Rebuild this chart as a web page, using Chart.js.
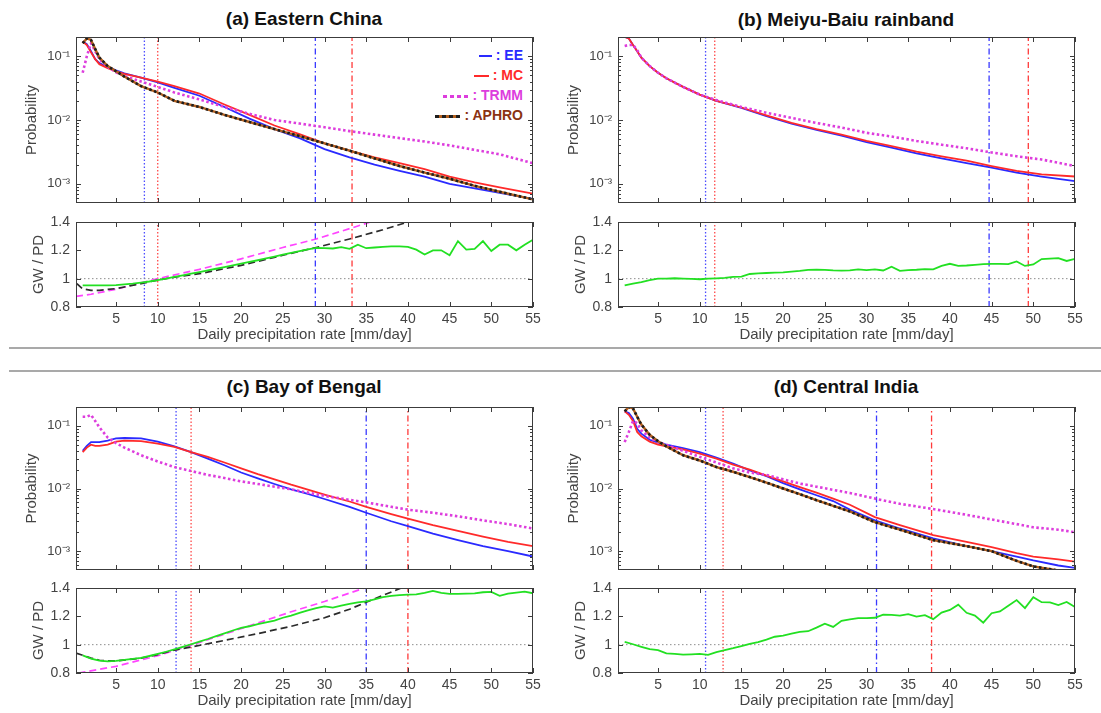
<!DOCTYPE html>
<html lang="en">
<head>
<meta charset="utf-8"/>
<title>Daily precipitation PDFs</title>
<script src="https://cdn.jsdelivr.net/npm/chart.js"></script>
<style>
body {
  margin: 0;
  width: 1101px;
  height: 713px;
  position: relative;
  overflow: hidden;
  background: #fff;
  font-family: 'Liberation Sans', Arial, sans-serif;
}
canvas { position: absolute; }
.title {
  position: absolute;
  font-size: 19px;
  line-height: 22px;
  font-weight: bold;
  color: #111;
  white-space: nowrap;
  transform: translateX(-50%);
}
.sep {
  position: absolute;
  left: 9px;
  width: 1092px;
  height: 1.5px;
  background: #a9a9a9;
}
.legend {
  position: absolute;
  left: 300px;
  width: 223px;
  top: 45px;
  text-align: right;
  font-size: 14px;
  font-weight: bold;
  line-height: 20px;
}
.legend .sw {
  display: inline-block;
  vertical-align: middle;
  margin-right: 4px;
}
</style>
</head>
<body>
<div class="title" style="left:304px;top:8px">(a) Eastern China</div>
<div class="title" style="left:846px;top:9px">(b) Meiyu-Baiu rainband</div>
<div class="title" style="left:304px;top:376px">(c) Bay of Bengal</div>
<div class="title" style="left:846px;top:376px">(d) Central India</div>
<div class="sep" style="top:347px"></div>
<div class="sep" style="top:370px"></div>
<div class="legend" id="legendA"></div>
<script>
// axes
const X_MIN = 0.2, X_MAX = 55;
const xTicks = [5, 10, 15, 20, 25, 30, 35, 40, 45, 50, 55];
const PROB_MIN = 5e-4, PROB_MAX = 0.2;
const probTicks = [0.001, 0.01, 0.1];
const probTickText = ['10\u207B\u00B3', '10\u207B\u00B2', '10\u207B\u00B9'];
const probMinor = [6e-4, 7e-4, 8e-4, 9e-4, 2e-3, 3e-3, 4e-3, 5e-3, 6e-3, 7e-3, 8e-3, 9e-3,
                   2e-2, 3e-2, 4e-2, 5e-2, 6e-2, 7e-2, 8e-2, 9e-2, 2e-1];
const RATIO_MIN = 0.8, RATIO_MAX = 1.4;
const ratioTicks = [0.8, 1, 1.2, 1.4];
const ratioTickText = ['0.8', '1', '1.2', '1.4'];
const seriesNames = ['EE', 'MC', 'TRMM', 'APHRO'];

// 1 mm/day bins for the GW/PD ratio
const binX = [1,2,3,4,5,6,7,8,9,10,11,12,13,14,15,16,17,18,19,20,21,22,23,24,25,26,27,28,29,30,
              31,32,33,34,35,36,37,38,39,40,41,42,43,44,45,46,47,48,49,50,51,52,53,54,55];

// (a) Eastern China
const xA = [1,1.5,2,2.5,3,4,5,6,8,10,12,15,18,21,24,27,30,33,36,39,42,45,48,51,55];
const eeA = [.17,.155,.12,.09,.078,.068,.060,.054,.046,.039,.032,.024,.016,.0105,.0072,.0052,.0035,.0026,.0020,.0016,.0013,.0010,.00085,.00072,.00058];
const mcA = [.17,.15,.115,.09,.075,.065,.058,.053,.046,.040,.034,.026,.0175,.012,.0082,.006,.0043,.0033,.0026,.0021,.0017,.0013,.00105,.00088,.0007];
const trmmA = [.055,.10,.16,.12,.09,.068,.056,.049,.040,.033,.027,.021,.016,.0125,.010,.0088,.0077,.0067,.0059,.0052,.0046,.0040,.0034,.0029,.0021];
const aphroA = [.16,.19,.18,.13,.095,.07,.058,.048,.034,.027,.020,.016,.012,.0093,.0072,.0056,.0043,.0033,.0025,.0019,.0015,.0012,.00093,.00075,.00057];
const ratioA = [.953,.952,.952,.953,.955,.96,.965,.972,.98,.99,1.0,1.012,1.023,1.035,1.047,1.058,1.07,1.082,1.094,1.106,
                1.118,1.13,1.143,1.156,1.17,1.182,1.195,1.207,1.218,1.215,1.213,1.222,1.21,1.24,1.215,1.22,1.225,1.228,1.228,1.225,
                1.205,1.17,1.2,1.2,1.165,1.265,1.205,1.21,1.265,1.195,1.24,1.24,1.2,1.24,1.275];
const fitAphroAX = [0.3,1,2,3,5,8,10,12,15,20,25,29,33,37,40];
const fitAphroA = [.965,.928,.918,.918,.93,.965,.99,1.01,1.035,1.094,1.165,1.22,1.28,1.345,1.4];
const fitTrmmAX = [0.2,2,5,8,10,15,20,25,29,33,35.5];
const fitTrmmA = [.875,.89,.925,.97,1.0,1.066,1.14,1.22,1.28,1.353,1.4];
const vA = [8.4, 10, 28.9, 33.3];

// (b) Meiyu-Baiu rainband
const xB = [1,1.5,2,2.5,3,4,5,6,8,10,12,15,18,21,24,27,30,33,36,39,42,45,48,51,55];
const eeB = [.2,.19,.15,.12,.095,.07,.055,.045,.033,.025,.02,.0155,.0115,.0088,.007,.0057,.0045,.0037,.0030,.0025,.0021,.0018,.0015,.0013,.0011];
const mcB = [.2,.19,.15,.12,.095,.07,.055,.045,.033,.025,.02,.0157,.0118,.009,.0072,.0059,.0047,.0039,.0032,.0027,.0023,.0019,.0016,.0014,.0013];
const trmmB = [.145,.15,.15,.125,.095,.07,.055,.045,.033,.025,.0205,.016,.013,.0108,.009,.0076,.0063,.0055,.0047,.0041,.0036,.0031,.0027,.0024,.0019];
const ratioB = [.953,.965,.976,.99,1.0,1.0,1.003,1.0,.998,.996,1.0,1.002,1.005,1.012,1.015,1.033,1.037,1.04,1.043,1.045,
                1.05,1.055,1.062,1.064,1.062,1.058,1.057,1.058,1.065,1.06,1.066,1.058,1.085,1.055,1.06,1.063,1.068,1.066,1.09,1.105,
                1.09,1.093,1.098,1.102,1.105,1.105,1.102,1.122,1.09,1.1,1.138,1.142,1.145,1.125,1.14];
const vB = [10.7, 11.8, 44.7, 49.4];

// (c) Bay of Bengal
const xC = [1,1.5,2,2.5,3,4,5,6,8,10,12,14,16,18,20,22,24,26,28,30,33,35,38,40,43,46,49,52,55];
const eeC = [.04,.048,.055,.055,.055,.058,.063,.064,.063,.056,.047,.038,.030,.0235,.018,.0145,.0118,.0097,.0082,.0068,.0051,.0041,.003,.0025,.0019,.0015,.0012,.001,.00082];
const mcC = [.038,.045,.05,.048,.048,.05,.056,.058,.057,.052,.046,.038,.032,.026,.021,.017,.014,.0115,.0096,.008,.0062,.0051,.0039,.0033,.0026,.0021,.0017,.0014,.0012];
const trmmC = [.14,.14,.15,.12,.095,.065,.053,.045,.034,.027,.022,.019,.0165,.0147,.013,.0118,.0107,.0097,.0086,.0076,.0066,.006,.0051,.0046,.0041,.0036,.0031,.0027,.0023];
const ratioC = [.925,.902,.888,.882,.885,.892,.9,.906,.92,.935,.95,.967,.985,1.003,1.022,1.04,1.06,1.08,1.1,1.118,
                1.13,1.145,1.158,1.17,1.19,1.205,1.225,1.242,1.258,1.27,1.262,1.275,1.288,1.298,1.306,1.32,1.335,1.345,1.35,1.353,
                1.355,1.365,1.38,1.365,1.358,1.358,1.36,1.362,1.37,1.372,1.345,1.36,1.368,1.374,1.363];
const fitAphroCX = [0.2,1,2,3,4,5,8,10,12,14,18,22,26,30,33,35,37,39.2];
const fitAphroC = [.94,.925,.905,.89,.885,.885,.905,.93,.962,.983,1.03,1.078,1.13,1.19,1.25,1.3,1.348,1.4];
const fitTrmmCX = [0.5,5,10,14,18,22,26,30,34.8];
const fitTrmmC = [.8,.847,.922,.996,1.074,1.153,1.232,1.305,1.4];
const vC = [12.2, 14.0, 35, 40];

// (d) Central India
const xD = [1,1.5,2,2.5,3,4,5,6,8,10,12,14,16,18,20,22,24,26,28,31,34,38,42,45,48,50,53,55];
const eeD = [.17,.16,.13,.09,.075,.06,.054,.05,.044,.038,.031,.025,.0195,.0158,.0122,.0097,.0078,.0063,.0046,.0031,.0023,.0016,.0012,.001,.00082,.00071,.00059,.00054];
const mcD = [.17,.15,.12,.08,.068,.056,.05,.047,.042,.036,.03,.024,.02,.016,.013,.0105,.0086,.0069,.0055,.0035,.0026,.0018,.0014,.00116,.00093,.00082,.00074,.00068];
const trmmD = [.055,.08,.12,.11,.085,.065,.055,.05,.04,.032,.026,.021,.018,.0165,.014,.012,.0107,.0095,.0085,.0069,.0057,.0047,.0038,.0032,.0027,.0024,.0022,.002];
const aphroD = [.17,.2,.19,.14,.105,.072,.057,.047,.034,.028,.022,.0185,.0152,.0124,.01,.0081,.0065,.0053,.0043,.0029,.0022,.0015,.0012,.001,.0007,.00057,.00049,.00045];
const ratioD = [1.019,1.003,.985,.968,.962,.938,.935,.93,.932,.935,.928,.948,.962,.975,.99,1.005,1.018,1.035,1.056,1.064,
                1.078,1.09,1.095,1.12,1.148,1.125,1.168,1.178,1.188,1.188,1.19,1.212,1.21,1.205,1.216,1.198,1.208,1.18,1.226,1.245,
                1.282,1.225,1.205,1.155,1.222,1.235,1.275,1.315,1.258,1.335,1.3,1.298,1.28,1.302,1.266];
const vD = [10.7, 12.8, 31.2, 37.8];

// colours
const C_EE = '#2a2aff', C_MC = '#ff2a2a', C_TRMM = '#dd3ddd', C_APHRO = '#8a3212';
const C_GREEN = '#22e022', C_FITK = '#2b2b2b', C_FITM = '#ff44ff';

// layout (px)
const PAD_L = 70, PAD_T = 18, PAD_R = 14, PLOT_W = 457;
const COL_L = [76, 618];

Chart.defaults.font.family = "'Liberation Sans', Arial, sans-serif";
Chart.defaults.color = '#444';

function series(xs, ys, color, width, dash) {
  return {
    data: xs.map((x, i) => ({ x: x, y: ys[i] })),
    borderColor: color, borderWidth: width, borderDash: dash || [],
    pointRadius: 0, fill: false, tension: 0
  };
}

function vlines(v, y0, y1) {
  const dot = [1.5, 2];
  const dashDot = [6, 3, 1.5, 3];
  return [
    series([v[0], v[0]], [y0, y1], '#4d4dff', 1.3, dot),
    series([v[1], v[1]], [y0, y1], '#ff4a4a', 1.3, dot),
    series([v[2], v[2]], [y0, y1], '#3a3aff', 1.3, dashDot),
    series([v[3], v[3]], [y0, y1], '#ff3a3a', 1.3, dashDot)
  ];
}

function framePlugin(yMajor, yMinor) {
  return {
    id: 'frame',
    afterDatasetsDraw(chart) {
      const { ctx, chartArea: a, scales } = chart;
      const sx = scales.x, sy = scales.y;
      ctx.save();
      ctx.strokeStyle = '#3c3c3c';
      ctx.lineWidth = 1;
      ctx.beginPath();
      xTicks.forEach(v => {
        const p = Math.round(sx.getPixelForValue(v)) + 0.5;
        ctx.moveTo(p, a.bottom); ctx.lineTo(p, a.bottom - 5);
        ctx.moveTo(p, a.top); ctx.lineTo(p, a.top + 5);
      });
      yMajor.forEach(v => {
        const p = Math.round(sy.getPixelForValue(v)) + 0.5;
        ctx.moveTo(a.left, p); ctx.lineTo(a.left + 5, p);
        ctx.moveTo(a.right, p); ctx.lineTo(a.right - 5, p);
      });
      yMinor.forEach(v => {
        const p = Math.round(sy.getPixelForValue(v)) + 0.5;
        ctx.moveTo(a.left, p); ctx.lineTo(a.left + 3, p);
        ctx.moveTo(a.right, p); ctx.lineTo(a.right - 3, p);
      });
      ctx.stroke();
      ctx.strokeRect(Math.round(a.left) + 0.5, Math.round(a.top) + 0.5,
                     Math.round(a.width) - 1, Math.round(a.height) - 1);
      ctx.restore();
    }
  };
}

function addCanvas(col, top, h, bottomPad) {
  const cv = document.createElement('canvas');
  cv.width = PAD_L + PLOT_W + PAD_R;
  cv.height = PAD_T + h + bottomPad;
  cv.style.left = (COL_L[col] - PAD_L) + 'px';
  cv.style.top = (top - PAD_T) + 'px';
  document.body.appendChild(cv);
  return cv;
}

function probPlot(col, top, h, datasets) {
  const cv = addCanvas(col, top, h, 18);
  new Chart(cv, {
    type: 'line',
    data: { datasets: datasets },
    options: {
      responsive: false, animation: false, events: [], devicePixelRatio: 1,
      layout: { padding: { top: PAD_T, right: PAD_R, bottom: 18, left: 0 } },
      plugins: { legend: { display: false }, tooltip: { enabled: false } },
      scales: {
        x: { type: 'linear', min: X_MIN, max: X_MAX, display: false },
        y: {
          type: 'logarithmic', min: PROB_MIN, max: PROB_MAX,
          afterBuildTicks: s => { s.ticks = probTicks.map(v => ({ value: v })); },
          afterFit: s => { s.width = PAD_L; },
          grid: { display: false, drawTicks: false },
          border: { display: false },
          ticks: { padding: 6, font: { size: 13 }, color: '#444',
                   callback: v => probTickText[probTicks.indexOf(v)] },
          title: { display: true, text: 'Probability', font: { size: 15 }, color: '#444',
                   padding: { top: 17, bottom: 0 } }
        }
      }
    },
    plugins: [framePlugin(probTicks, probMinor)]
  });
}

function ratioPlot(col, top, datasets) {
  const cv = addCanvas(col, top, 85, 40);
  new Chart(cv, {
    type: 'line',
    data: { datasets: datasets },
    options: {
      responsive: false, animation: false, events: [], devicePixelRatio: 1,
      layout: { padding: { top: PAD_T, right: PAD_R, bottom: 0, left: 0 } },
      plugins: { legend: { display: false }, tooltip: { enabled: false } },
      scales: {
        x: {
          type: 'linear', min: X_MIN, max: X_MAX,
          afterBuildTicks: s => { s.ticks = xTicks.map(v => ({ value: v })); },
          afterFit: s => { s.height = 40; },
          grid: { display: false, drawTicks: false },
          border: { display: false },
          ticks: { padding: 4, font: { size: 14 }, color: '#444', maxRotation: 0, autoSkip: false },
          title: { display: true, text: 'Daily precipitation rate [mm/day]', font: { size: 15 },
                   color: '#444', padding: { top: 0, bottom: 3 } }
        },
        y: {
          type: 'linear', min: RATIO_MIN, max: RATIO_MAX,
          afterBuildTicks: s => { s.ticks = ratioTicks.map(v => ({ value: v })); },
          afterFit: s => { s.width = PAD_L; },
          grid: { display: false, drawTicks: false },
          border: { display: false },
          ticks: { padding: 6, font: { size: 14 }, color: '#444',
                   callback: v => ratioTickText[ratioTicks.indexOf(v)] },
          title: { display: true, text: 'GW / PD', font: { size: 15 }, color: '#444',
                   padding: { top: 24, bottom: 0 } }
        }
      }
    },
    plugins: [framePlugin(ratioTicks, [])]
  });
}

function refLine() {
  return series([X_MIN, X_MAX], [1, 1], '#8c8c8c', 1, [1.5, 2.5]);
}

// (a)
probPlot(0, 37, 166, [
  series(xA, aphroA, '#1e1e1e', 2.6, [2.5, 2.5]),
  series(xA, aphroA, '#b4601e', 2.4),
  series(xA, trmmA, C_TRMM, 2.6, [2.5, 2.5]),
  series(xA, mcA, C_MC, 1.8),
  series(xA, eeA, C_EE, 1.8)
].concat(vlines(vA, PROB_MIN, PROB_MAX)));
ratioPlot(0, 222, [
  series(binX, ratioA, C_GREEN, 1.8),
  series(fitAphroAX, fitAphroA, C_FITK, 1.7, [7, 4]),
  series(fitTrmmAX, fitTrmmA, C_FITM, 1.7, [7, 4]),
  refLine()
].concat(vlines(vA, RATIO_MIN, RATIO_MAX)));

// (b)
probPlot(1, 37, 166, [
  series(xB, trmmB, C_TRMM, 2.6, [2.5, 2.5]),
  series(xB, mcB, C_MC, 1.8),
  series(xB, eeB, C_EE, 1.8)
].concat(vlines(vB, PROB_MIN, PROB_MAX)));
ratioPlot(1, 222, [
  series(binX, ratioB, C_GREEN, 1.8),
  refLine()
].concat(vlines(vB, RATIO_MIN, RATIO_MAX)));

// (c)
probPlot(0, 407, 163, [
  series(xC, trmmC, C_TRMM, 2.6, [2.5, 2.5]),
  series(xC, mcC, C_MC, 1.8),
  series(xC, eeC, C_EE, 1.8)
].concat(vlines(vC, PROB_MIN, PROB_MAX)));
ratioPlot(0, 588, [
  series(binX, ratioC, C_GREEN, 1.8),
  series(fitAphroCX, fitAphroC, C_FITK, 1.7, [7, 4]),
  series(fitTrmmCX, fitTrmmC, C_FITM, 1.7, [7, 4]),
  refLine()
].concat(vlines(vC, RATIO_MIN, RATIO_MAX)));

// (d)
probPlot(1, 407, 163, [
  series(xD, aphroD, '#1e1e1e', 2.6, [2.5, 2.5]),
  series(xD, aphroD, '#b4601e', 2.4),
  series(xD, trmmD, C_TRMM, 2.6, [2.5, 2.5]),
  series(xD, mcD, C_MC, 1.8),
  series(xD, eeD, C_EE, 1.8)
].concat(vlines(vD, PROB_MIN, PROB_MAX)));
ratioPlot(1, 588, [
  series(binX, ratioD, C_GREEN, 1.8),
  refLine()
].concat(vlines(vD, RATIO_MIN, RATIO_MAX)));

// legend for panel (a)
const swatches = [
  { w: 13, bg: C_EE, h: 2 },
  { w: 15, bg: C_MC, h: 2 },
  { w: 25, bg: 'repeating-linear-gradient(90deg,' + C_TRMM + ' 0 4px,transparent 4px 7px)', h: 3 },
  { w: 25, bg: 'repeating-linear-gradient(90deg,#1e1e1e 0 4px,#b4601e 4px 7px)', h: 3 }
];
const textColors = [C_EE, C_MC, C_TRMM, C_APHRO];
const legend = document.getElementById('legendA');
seriesNames.forEach((name, i) => {
  const row = document.createElement('div');
  const sw = document.createElement('span');
  sw.className = 'sw';
  sw.style.width = swatches[i].w + 'px';
  sw.style.height = swatches[i].h + 'px';
  sw.style.background = swatches[i].bg;
  const txt = document.createElement('span');
  txt.style.color = textColors[i];
  txt.textContent = ': ' + name;
  row.appendChild(sw);
  row.appendChild(txt);
  legend.appendChild(row);
});
</script>
</body>
</html>
